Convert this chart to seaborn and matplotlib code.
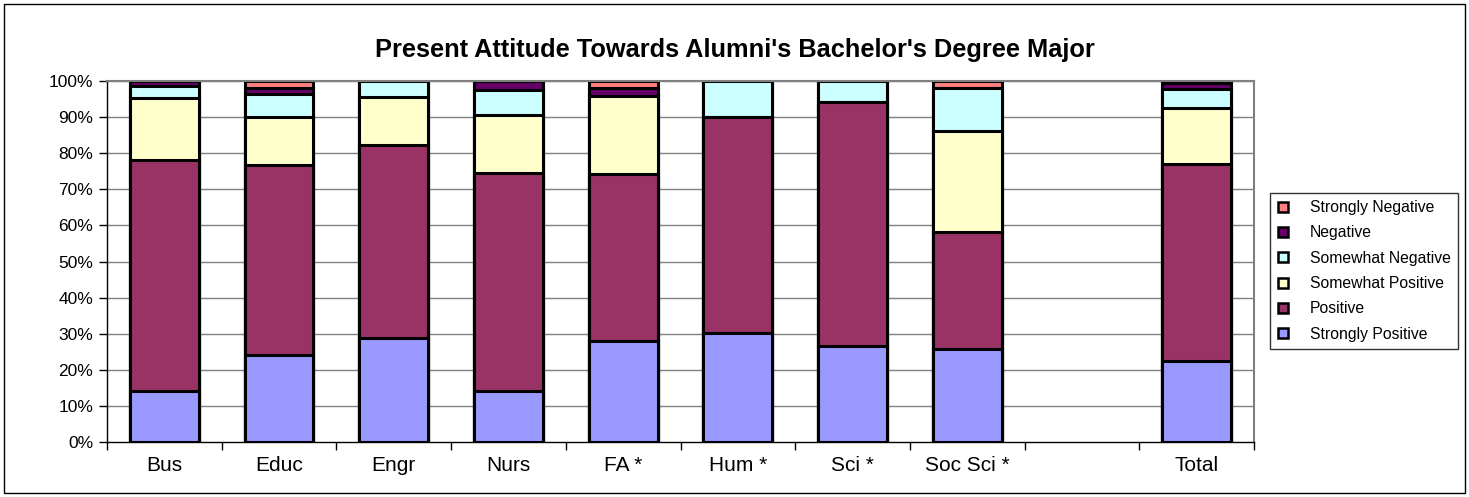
import matplotlib
matplotlib.use("Agg")
import matplotlib.pyplot as plt
from matplotlib.lines import Line2D
from matplotlib.patches import Rectangle
import numpy as np
import pandas as pd
import seaborn as sns

categories = ["Bus", "Educ", "Engr", "Nurs", "FA *", "Hum *", "Sci *", "Soc Sci *", "Total"]
order = ["Bus", "Educ", "Engr", "Nurs", "FA *", "Hum *", "Sci *", "Soc Sci *", " ", "Total"]

strongly_positive = [14.0, 24.2, 28.9, 14.0, 28.0, 30.1, 26.5, 25.7, 22.5]
positive = [64.2, 52.6, 53.3, 60.5, 46.1, 60.0, 67.7, 32.5, 54.5]
somewhat_positive = [17.1, 13.2, 13.3, 16.2, 21.8, 0.0, 0.0, 28.0, 15.6]
somewhat_negative = [3.4, 6.3, 4.5, 6.9, 0.0, 9.9, 5.8, 11.8, 5.3]
negative = [1.3, 1.7, 0.0, 2.4, 2.1, 0.0, 0.0, 0.0, 1.6]
strongly_negative = [0.0, 2.0, 0.0, 0.0, 2.0, 0.0, 0.0, 2.0, 0.5]

series_names = ["Strongly Positive", "Positive", "Somewhat Positive",
                "Somewhat Negative", "Negative", "Strongly Negative"]
series_values = [strongly_positive, positive, somewhat_positive,
                 somewhat_negative, negative, strongly_negative]
colors = ["#9999FF", "#993366", "#FFFFCC", "#CCFFFF", "#660066", "#FF8080"]

sns.set_theme(style="white")
plt.rcParams["font.family"] = ["Liberation Sans", "DejaVu Sans"]
plt.rcParams["text.color"] = "black"
plt.rcParams["xtick.labelcolor"] = "black"
plt.rcParams["ytick.labelcolor"] = "black"

df = pd.DataFrame({"category": categories})
for name, vals in zip(series_names, series_values):
    df[name] = vals
totals = df[series_names].sum(axis=1)
cum = df[series_names].div(totals, axis=0).cumsum(axis=1) * 100

fig = plt.figure(figsize=(14.69, 4.97), dpi=100)
ax = fig.add_axes([107 / 1469, 1 - 442 / 497, 1147 / 1469, 361 / 497])

for ref in range(10, 101, 10):
    ax.axhline(ref, color="#808080", lw=1.0, zorder=0)

# draw cumulative bars from the top series down so lower ones overlap
for name, color in reversed(list(zip(series_names, colors))):
    sns.barplot(x=df["category"], y=cum[name], order=order, color=color,
                width=0.6, edgecolor="black", linewidth=2.2, saturation=1,
                ax=ax, zorder=2)

ax.set_ylim(0, 100)
ax.set_xlim(-0.5, len(order) - 0.5)
ax.set_yticks(np.arange(0, 101, 10))
ax.set_yticklabels([f"{v}%" for v in range(0, 101, 10)], fontsize=12.5, color="black")
ax.set_xticks(range(len(order)))
ax.set_xticklabels(order, fontsize=15, color="black")
ax.tick_params(axis="x", length=0, pad=10)
ax.tick_params(axis="y", length=6, width=1, color="black", direction="out", left=True, pad=4)
# category boundary ticks on x axis
ax.set_xticks(np.arange(-0.5, len(order), 1), minor=True)
ax.tick_params(axis="x", which="minor", length=6, width=1, color="black", direction="out", bottom=True)
ax.set_xlabel("")
ax.set_ylabel("")
for side in ["top", "right"]:
    ax.spines[side].set_color("#808080")
    ax.spines[side].set_linewidth(1.5)
for side in ["left", "bottom"]:
    ax.spines[side].set_color("black")
    ax.spines[side].set_linewidth(1.0)

fig.text(0.5, 1 - 50 / 497, "Present Attitude Towards Alumni's Bachelor's Degree Major",
         ha="center", va="center", fontsize=18.3, fontweight="bold", color="black")

handles = [Line2D([0], [0], marker="s", linestyle="none", markersize=7,
                  markerfacecolor=c, markeredgecolor="black", markeredgewidth=1.8)
           for c in reversed(colors)]
leg = fig.legend(handles, list(reversed(series_names)), loc="upper left",
                 bbox_to_anchor=(1270 / 1469, 1 - 193 / 497), borderaxespad=0,
                 fontsize=11.3, frameon=True, fancybox=False, handletextpad=1.3,
                 labelspacing=0.66, borderpad=0.45, handlelength=0.8)
leg.get_frame().set_edgecolor("black")
leg.get_frame().set_linewidth(1.0)
for t in leg.get_texts():
    t.set_color("black")

fig.patches.append(Rectangle((4 / 1469, 4 / 497), 1 - 8 / 1469, 1 - 8 / 497,
                             transform=fig.transFigure, fill=False,
                             edgecolor="black", linewidth=1.0))

fig.savefig("out.png", dpi=100)
plt.close(fig)
